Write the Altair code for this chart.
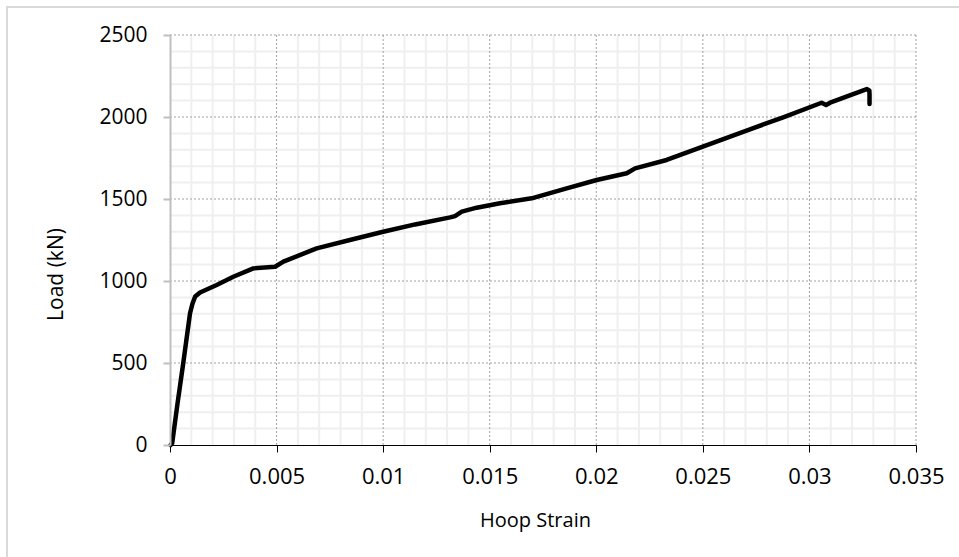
import altair as alt
import pandas as pd

# Hoop strain vs load
strain = [0.00003, 0.0001, 0.00035, 0.00062, 0.00094, 0.00105, 0.00118, 0.00141,
          0.00219, 0.00297, 0.00391, 0.00493, 0.00532, 0.00688, 0.00844, 0.0100,
          0.0115, 0.01314, 0.01337, 0.01369, 0.01439, 0.01548, 0.01697, 0.01861,
          0.02002, 0.02143, 0.02182, 0.0233, 0.025, 0.02721, 0.02877, 0.03057,
          0.03078, 0.03097, 0.03269, 0.03281, 0.03282, 0.03282]
load = [0, 10, 250, 498, 803, 860, 905, 930,
        976, 1026, 1077, 1087, 1118, 1199, 1250, 1300,
        1345, 1388, 1396, 1423, 1447, 1474, 1504, 1565,
        1616, 1657, 1687, 1738, 1820, 1925, 1998, 2087,
        2073, 2087, 2170, 2162, 2140, 2080]

x_major = [0, 0.005, 0.01, 0.015, 0.02, 0.025, 0.03, 0.035]
y_major = [0, 500, 1000, 1500, 2000, 2500]
x_minor = [i / 1000 for i in range(0, 36) if i % 5 != 0]
y_minor = [i * 100 for i in range(0, 26) if i % 5 != 0]

FONT = "Open Sans"

df = pd.DataFrame({"strain": strain, "load": load, "i": list(range(len(strain)))})

xs = alt.Scale(domain=[0, 0.035], nice=False, zero=False)
ys = alt.Scale(domain=[0, 2500], nice=False)

xaxis = alt.Axis(
    values=x_major, format="~g", grid=False, domainColor="#000000",
    domainWidth=1, tickColor="#000000", tickSize=7, tickWidth=1,
    labelFont=FONT, labelFontSize=22, labelColor="#000000",
    labelPadding=14, labelFlush=False,
    title="Hoop Strain", titleFont=FONT, titleFontSize=20,
    titleFontWeight="normal", titleColor="#000000",
    titleBaseline="alphabetic", titleX=365, titleY=81, titleAlign="center",
    zindex=1)
yaxis = alt.Axis(
    values=y_major, format="d", grid=False, domainColor="#bfbfbf", domainWidth=2,
    tickColor="#bfbfbf", tickSize=7, tickWidth=2,
    labelFont=FONT, labelFontSize=21, labelColor="#000000",
    labelPadding=16,
    title="Load (kN)", titleFont=FONT, titleFontSize=21,
    titleFontWeight="normal", titleColor="#000000", titleAngle=270,
    titleBaseline="alphabetic", titleX=-108, titleY=239, titleAlign="center",
    zindex=1)


def X(field):
    return alt.X(field, type="quantitative", scale=xs, axis=xaxis)


def Y(field):
    return alt.Y(field, type="quantitative", scale=ys, axis=yaxis)


gx_minor = alt.Chart(pd.DataFrame({"strain": x_minor})).mark_rule(
    color="#efefef", strokeWidth=2).encode(x=X("strain"))
gy_minor = alt.Chart(pd.DataFrame({"load": y_minor})).mark_rule(
    color="#efefef", strokeWidth=2).encode(y=Y("load"))
gx_major = alt.Chart(pd.DataFrame({"strain": x_major[1:]})).mark_rule(
    color="#a0a0a0", strokeWidth=1, strokeDash=[2, 2]).encode(x=X("strain"))
gy_major = alt.Chart(pd.DataFrame({"load": y_major[1:]})).mark_rule(
    color="#a0a0a0", strokeWidth=1, strokeDash=[2, 2]).encode(y=Y("load"))

border = alt.Chart(pd.DataFrame({"a": [0]})).mark_rect(
    fill=None, stroke="#d9d9d9", strokeWidth=2).encode(
    x=alt.value(-163), x2=alt.value(840), y=alt.value(-28), y2=alt.value(580))

line = alt.Chart(df).mark_line(color="#000000", strokeWidth=4.5,
                               strokeJoin="round", strokeCap="round").encode(
    x=X("strain"), y=Y("load"), order=alt.Order("i:Q"))

chart = alt.layer(border, gx_minor, gy_minor, gx_major, gy_major, line).properties(
    width=746, height=410,
    padding={"left": 170, "top": 35, "right": 43, "bottom": 112},
    autosize=alt.AutoSizeParams(type="none"),
    background="#ffffff",
).configure_view(stroke=None)

chart.save("out.html", embed_options={"renderer": "svg", "actions": False})
